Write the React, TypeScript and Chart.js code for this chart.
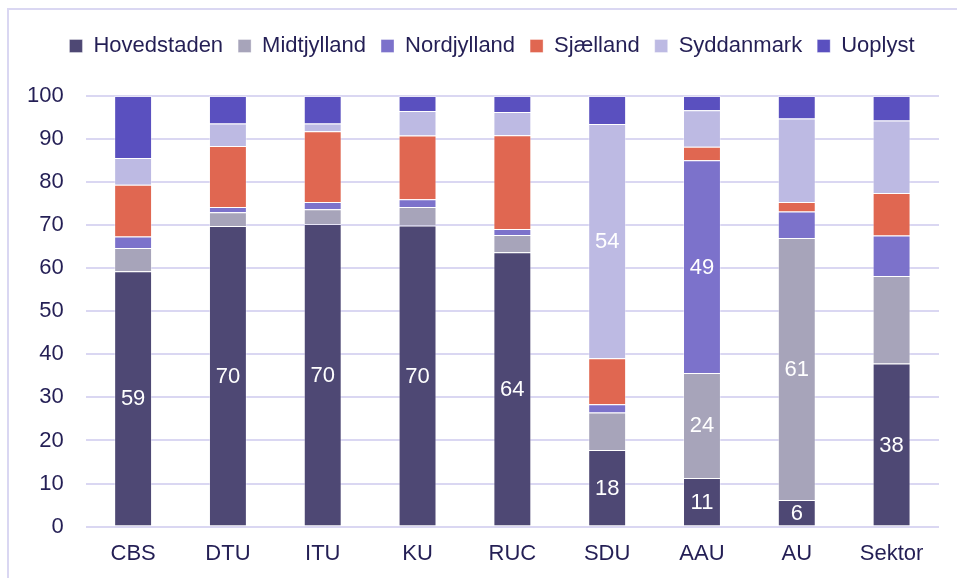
import React, { useEffect, useRef } from "react";
import { Chart, registerables } from "chart.js";

Chart.register(...registerables);

const categories = ["CBS", "DTU", "ITU", "KU", "RUC", "SDU", "AAU", "AU", "Sektor"];

const hovedstaden = [59.3, 69.8, 70.3, 69.9, 63.7, 17.8, 11.3, 6.2, 37.9];
const midtjylland = [5.4, 3.2, 3.4, 4.3, 4.0, 8.7, 24.4, 60.8, 20.3];
const nordjylland = [2.7, 1.2, 1.7, 1.8, 1.4, 1.9, 49.4, 6.2, 9.4];
const sjaelland = [12.0, 14.2, 16.4, 14.8, 21.8, 10.7, 3.1, 2.2, 9.9];
const syddanmark = [6.2, 5.2, 1.8, 5.7, 5.4, 54.4, 8.5, 19.4, 16.8];
const uoplyst = [14.4, 6.4, 6.4, 3.5, 3.7, 6.5, 3.3, 5.2, 5.7];

// which segments carry a value label (1 = shown)
const hovedstadenLabels = [1, 1, 1, 1, 1, 1, 1, 1, 1];
const midtjyllandLabels = [0, 0, 0, 0, 0, 0, 1, 1, 0];
const nordjyllandLabels = [0, 0, 0, 0, 0, 0, 1, 0, 0];
const sjaellandLabels = [0, 0, 0, 0, 0, 0, 0, 0, 0];
const syddanmarkLabels = [0, 0, 0, 0, 0, 1, 0, 0, 0];
const uoplystLabels = [0, 0, 0, 0, 0, 0, 0, 0, 0];

const yTicks = [0, 10, 20, 30, 40, 50, 60, 70, 80, 90, 100];

const FONT = "'Liberation Sans', Arial, sans-serif";
const TEXT = "#241F55";
const GRID = "#DAD7F2";

const series = [
  { label: "Hovedstaden", data: hovedstaden, color: "#4E4874", flags: hovedstadenLabels },
  { label: "Midtjylland", data: midtjylland, color: "#A7A4BA", flags: midtjyllandLabels },
  { label: "Nordjylland", data: nordjylland, color: "#7C72CB", flags: nordjyllandLabels },
  { label: "Sjælland", data: sjaelland, color: "#E06751", flags: sjaellandLabels },
  { label: "Syddanmark", data: syddanmark, color: "#BDBAE3", flags: syddanmarkLabels },
  { label: "Uoplyst", data: uoplyst, color: "#5A50BF", flags: uoplystLabels },
];

const valueLabels = {
  id: "valueLabels",
  afterDatasetsDraw(chart: any) {
    const ctx = chart.ctx;
    ctx.save();
    ctx.fillStyle = "#FFFFFF";
    ctx.font = `22px ${FONT}`;
    ctx.textAlign = "center";
    ctx.textBaseline = "middle";
    chart.data.datasets.forEach((ds: any, di: number) => {
      const meta = chart.getDatasetMeta(di);
      meta.data.forEach((el: any, i: number) => {
        if (!ds.flags[i]) return;
        const v = ds.data[i];
        const y = (el.y + el.base) / 2;
        ctx.fillText(String(Math.round(v)), el.x, y + 1);
      });
    });
    ctx.restore();
  },
};

const legendTweak = {
  id: "legendTweak",
  beforeInit(chart: any) {
    const legend = chart.legend;
    if (!legend) return;
    const fit = legend.fit;
    legend.fit = function () {
      fit.call(this);
      this.height += 29;
    };
  },
  afterLayout(chart: any) {
    const legend = chart.legend;
    if (!legend) return;
    legend.left += 20;
    legend.right += 20;
  },
};

export default function App() {
  const ref = useRef<HTMLCanvasElement | null>(null);

  useEffect(() => {
    if (!ref.current) return;
    const chart = new Chart(ref.current, {
      type: "bar",
      data: {
        labels: categories,
        datasets: series.map((s) => ({
          label: s.label,
          data: s.data,
          backgroundColor: s.color,
          borderColor: "rgba(255,255,255,0.35)",
          borderWidth: 1,
          categoryPercentage: 1,
          barPercentage: 0.4,
          flags: s.flags,
        })) as any,
      },
      options: {
        animation: false,
        responsive: true,
        maintainAspectRatio: false,
        layout: { padding: { left: 5, right: 18, top: 20, bottom: 0 } },
        plugins: {
          legend: {
            position: "top",
            labels: {
              boxWidth: 13,
              boxHeight: 13,
              padding: 15,
              color: TEXT,
              font: { family: FONT, size: 22 },
            },
          },
          tooltip: { enabled: false },
        },
        scales: {
          x: {
            stacked: true,
            grid: { display: false, drawTicks: false },
            border: { display: false },
            ticks: { color: TEXT, font: { family: FONT, size: 22 }, padding: 14 },
          },
          y: {
            stacked: true,
            min: 0,
            max: 100,
            afterBuildTicks(axis: any) {
              axis.ticks = yTicks.map((v) => ({ value: v }));
            },
            grid: { color: GRID, lineWidth: 2, drawTicks: false },
            border: { display: false },
            ticks: { color: TEXT, font: { family: FONT, size: 22 }, padding: 22 },
          },
        },
      },
      plugins: [valueLabels, legendTweak],
    });
    return () => chart.destroy();
  }, []);

  return (
    <div style={{ position: "fixed", left: 0, top: 0, width: 957, height: 578, overflow: "hidden" }}>
      <div style={{ position: "absolute", left: 8, top: 8, right: 0, height: 2, background: GRID }} />
      <div style={{ position: "absolute", left: 7, top: 8, bottom: 0, width: 2, background: GRID }} />
      <div style={{ position: "absolute", left: 0, top: 0, width: 957, height: 581 }}>
        <canvas ref={ref} />
      </div>
    </div>
  );
}
